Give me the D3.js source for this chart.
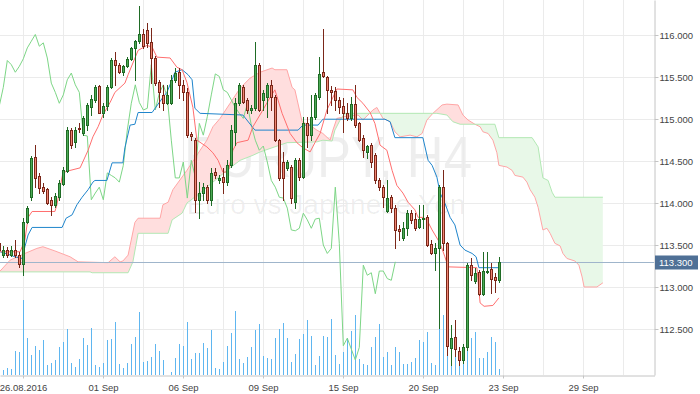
<!DOCTYPE html>
<html>
<head>
<meta charset="utf-8">
<script src="https://cdn.jsdelivr.net/npm/d3@7"></script>
<style>
html, body { margin:0; padding:0; background:#fff; }
svg { display:block; font-family:"Liberation Sans", Arial, sans-serif; }
</style>
</head>
<body>
<svg id="chart" width="700" height="394"></svg>
<script>
// 4h bars, index 0 = partly hidden bar at the left edge
var barOpen = [113.52,113.38,113.44,113.38,113.44,113.38,113.27,113.77,114.07,114.55,
  114.32,114.19,114.17,114.04,113.98,114.07,114.23,114.38,114.87,114.73,
  114.89,114.83,114.93,115.14,115.23,115.39,115.08,115.16,115.38,115.70,
  115.65,115.56,115.63,115.72,115.85,115.93,116.01,116.06,115.92,115.73,
  115.44,115.29,115.19,115.19,115.47,115.56,115.41,115.32,114.82,114.75,
  114.04,114.12,114.19,114.04,114.37,114.27,114.31,114.25,114.45,114.85,
  115.19,115.38,115.23,115.11,115.13,115.65,115.23,115.26,115.41,115.26,
  114.75,114.49,114.42,114.43,114.01,114.51,114.31,114.95,114.81,115.03,
  115.26,115.56,115.50,115.35,115.34,115.23,115.16,115.07,115.01,115.18,
  114.95,114.78,114.61,114.69,114.57,114.27,114.19,113.90,114.07,113.94,
  113.69,113.58,113.70,113.88,113.81,113.71,113.81,113.83,113.51,113.40,
  113.46,114.19,113.52,112.27,112.40,112.24,112.13,112.28,113.26,113.07,
  113.18,112.92,113.18,113.21,113.12,113.08];
var barHigh = [113.56,113.49,113.48,113.49,113.56,113.42,113.82,113.96,114.56,114.69,
  114.36,114.24,114.18,114.07,114.12,114.27,114.43,114.91,114.89,114.91,
  114.95,115.04,115.19,115.29,115.41,115.41,115.19,115.41,115.73,115.80,
  115.67,115.65,115.74,115.86,115.94,116.35,116.07,116.15,116.09,115.75,
  115.47,115.41,115.41,115.53,115.61,115.61,115.47,115.37,114.85,114.78,
  114.25,114.24,114.21,114.42,114.42,114.33,114.42,114.51,114.93,115.25,
  115.43,115.41,115.25,115.17,115.92,115.67,115.35,115.43,115.47,115.29,
  114.76,114.61,114.51,114.45,114.54,114.54,115.03,115.03,115.29,115.31,
  115.74,116.07,115.51,115.39,115.38,115.26,115.25,115.19,115.26,115.41,
  114.97,114.81,114.69,114.72,114.60,114.30,114.21,114.27,114.10,113.98,
  113.74,113.77,113.92,113.92,113.88,113.98,113.98,113.86,113.56,113.52,
  114.21,114.39,113.54,112.55,112.61,112.28,112.32,113.29,113.34,113.23,
  113.20,113.42,113.42,113.29,113.17,113.36];
var barLow = [113.36,113.36,113.36,113.37,113.36,113.24,113.14,113.76,114.04,114.19,
  114.12,114.12,113.99,113.86,113.95,114.04,114.21,114.37,114.66,114.67,
  114.85,114.81,114.87,115.05,115.20,115.07,115.03,115.11,115.37,115.41,
  115.55,115.53,115.62,115.70,115.47,115.91,115.85,115.86,115.43,115.41,
  115.14,115.11,115.18,115.18,115.44,115.25,115.23,114.79,114.75,113.89,
  113.82,114.04,114.00,113.98,114.30,114.24,114.12,114.21,114.43,114.69,
  115.17,115.19,115.08,115.08,115.11,115.10,115.11,115.03,115.11,114.74,
  114.27,114.04,114.39,114.00,113.94,114.27,114.30,114.67,114.75,115.00,
  115.24,115.50,115.07,115.17,115.11,115.07,114.85,114.99,114.99,114.91,
  114.74,114.55,114.54,114.43,114.24,114.16,113.95,113.89,113.89,113.46,
  113.56,113.56,113.62,113.76,113.68,113.70,113.70,113.49,113.39,113.20,
  112.51,113.44,112.19,112.07,112.18,112.07,112.09,112.25,113.08,113.05,
  112.90,112.90,113.17,112.93,112.94,113.06];
var barClose = [113.44,113.44,113.38,113.44,113.38,113.27,113.77,113.94,114.54,114.30,
  114.18,114.14,114.00,113.98,114.08,114.24,114.39,114.87,114.69,114.87,
  114.88,115.01,115.17,115.24,115.38,115.08,115.16,115.38,115.70,115.65,
  115.56,115.63,115.72,115.85,115.93,116.01,115.87,115.91,115.73,115.43,
  115.32,115.19,115.29,115.47,115.55,115.41,115.32,114.81,114.80,114.04,
  114.12,114.19,114.04,114.36,114.33,114.30,114.25,114.45,114.87,115.19,
  115.41,115.20,115.11,115.13,115.65,115.11,115.31,115.41,115.26,114.75,
  114.30,114.30,114.49,114.06,114.51,114.31,114.95,114.81,115.03,115.29,
  115.54,115.51,115.35,115.32,115.23,115.14,115.07,115.01,115.18,114.93,
  114.75,114.63,114.68,114.49,114.27,114.19,114.07,114.06,113.94,113.68,
  113.67,113.70,113.88,113.80,113.70,113.81,113.82,113.50,113.40,113.46,
  114.19,113.52,112.30,112.39,112.26,112.13,112.28,113.26,113.14,113.17,
  112.92,113.19,113.19,113.10,113.08,113.30];
var tickVolume = [4,5,7,6,24,23,75,37,20,29,
  25,35,10,12,15,28,33,46,12,8,
  16,37,30,47,10,8,12,35,36,53,
  11,7,12,31,38,63,13,14,18,31,
  24,15,0,3,17,31,29,53,16,22,
  22,32,27,45,7,6,13,29,42,64,
  16,12,18,28,45,51,19,17,16,37,
  46,52,37,13,21,36,41,55,39,10,
  19,39,38,56,20,11,23,37,44,60,
  16,11,10,28,38,51,18,23,10,28,
  23,11,11,13,17,35,33,43,12,10,
  46,60,55,37,55,10,28,30,37,43,
  17,17,23,38,33,6];

// ichimoku lines, read as vertices (bar position, price)
var tenkanPos = [0.2,5.2,6.4,7.2,8.2,13.9,14.4,15.9,16.9,20.2,22.2,23.4,24.7,25.9,27.7,28.9,31.4,32.2,33.4,34.7,36.9,38.2,39.4,42.7,44.4,45.7,46.9,48.4,49.4,51.9,53.4,54.7,55.9,57.2,58.4,59.4,62.2,63.4,65.9,67.7,68.9,70.7,72.7,74.4,75.9,77.7,78.9,80.2,81.9,84.4,88.4,89.4,90.9,92.7,93.9,95.2,96.9,98.2,99.4,100.9,102.2,103.9,104.7,105.9,106.9,108.2,110.2,111.4,112.2,119.4,120.2,121.2,123.4,124.9];
var tenkanVal = [113.42,113.42,113.56,113.83,113.90,113.90,113.98,114.36,114.38,114.42,114.63,114.79,114.91,115.05,115.20,115.32,115.43,115.53,115.67,115.82,115.88,115.86,115.74,115.73,115.62,115.59,115.44,115.14,114.75,114.67,114.60,114.51,114.37,114.37,114.63,114.72,114.75,114.91,115.11,115.26,115.35,115.07,114.83,114.72,114.66,114.61,114.72,114.83,115.11,115.36,115.35,115.26,115.19,115.08,114.95,114.69,114.63,114.39,114.21,114.12,114.01,113.92,113.83,113.83,113.80,113.68,113.52,113.36,113.24,113.23,112.81,112.77,112.78,112.87];
var kijunPos = [0.2,2.2,3.9,5.7,6.4,7.2,8.2,15.7,16.7,18.2,19.4,20.7,22.2,23.4,23.9,26.9,28.2,30.9,31.4,32.7,33.9,34.7,38.2,40.9,41.9,43.2,43.9,45.7,47.2,48.2,48.9,50.2,60.9,63.9,74.7,75.9,79.7,80.9,96.4,97.7,98.9,105.9,107.2,108.2,109.4,110.2,111.4,112.7,113.9,115.2,116.4,118.2,119.2,119.9,124.9];
var kijunVal = [113.42,113.39,113.36,113.34,113.48,113.62,113.71,113.71,113.82,113.86,113.98,114.07,114.16,114.25,114.27,114.27,114.48,114.48,114.66,114.93,114.94,115.08,115.08,115.26,115.32,115.47,115.56,115.59,115.53,115.47,115.13,115.07,115.05,114.87,114.87,114.93,114.93,115.00,115.00,114.97,114.78,114.78,114.51,114.45,114.31,114.12,114.00,113.83,113.74,113.50,113.44,113.40,113.36,113.23,113.23];
var spanAPos = [0.2,2.7,6.4,9.4,10.9,13.9,17.7,19.7,27.2,28.9,30.2,30.9,32.2,33.9,34.7,40.2,40.9,42.2,43.4,46.9,50.2,51.9,53.4,55.2,57.7,60.2,62.7,65.2,68.2,68.9,71.9,73.2,73.9,75.7,78.2,79.4,80.9,82.7,83.4,84.4,86.4,89.7,90.9,93.4,94.4,95.2,95.9,97.7,98.9,100.2,102.7,104.4,105.7,106.9,108.4,110.7,111.9,114.7,115.9,117.2,118.9,120.2,120.9,122.2,123.4,124.4,124.9,126.9,128.2,128.9,130.9,131.9,132.7,133.9,134.7,135.9,136.9,137.7,138.9,140.2,140.9,141.9,143.9,144.9,145.7,146.2,149.4,150.9];
var spanAVal = [113.19,113.32,113.40,113.46,113.48,113.43,113.36,113.30,113.29,113.36,113.30,113.31,113.38,113.77,113.82,113.82,113.98,114.01,114.16,114.39,114.63,114.75,114.91,115.01,115.19,115.37,115.49,115.56,115.61,115.59,115.59,115.38,115.35,114.97,114.91,114.87,114.83,114.75,114.87,115.01,115.03,115.05,114.99,115.11,115.14,115.07,115.01,114.97,114.85,114.79,114.81,114.79,114.83,114.99,115.07,115.17,115.18,115.17,115.05,114.99,114.94,114.91,114.85,114.83,114.75,114.60,114.45,114.43,114.39,114.33,114.31,114.25,114.16,114.07,113.95,113.68,113.70,113.64,113.52,113.49,113.40,113.34,113.31,113.26,113.12,113.00,113.00,113.05];
var spanBPos = [0.2,22.7,23.2,32.2,33.4,34.7,42.2,43.2,45.7,46.9,50.2,53.9,57.7,60.2,63.4,65.2,71.9,79.4,80.9,83.2,83.9,85.2,86.4,109.4,111.9,113.4,115.2,123.9,124.9,133.2,134.7,135.9,137.2,138.2,138.9,150.9];
var spanBVal = [113.18,113.18,113.17,113.17,113.30,113.64,113.64,113.80,113.88,114.00,114.12,114.27,114.42,114.51,114.57,114.61,114.72,114.73,114.75,114.74,114.87,114.99,115.07,115.07,115.05,114.97,114.94,114.94,114.78,114.78,114.67,114.30,114.27,114.13,114.07,114.07];
var chikouShift = 26;

var priceTicks = [112.5,113.0,113.5,114.0,114.5,115.0,115.5,116.0];
var dateTickPos = [6,26,46,66,86,106,126,146];
var dateTickLabels = ["26.08.2016","01 Sep","06 Sep","09 Sep","15 Sep","20 Sep","23 Sep","29 Sep"];
var lastPrice = 113.300;

var plotW = 654.5, plotH = 375;
var x = d3.scaleLinear().domain([0.175, 163.8]).range([0, plotW]);
var y = d3.scaleLinear().domain([111.951, 116.421]).range([plotH, 0]);
var vol = d3.scaleLinear().domain([0, 100]).range([plotH, plotH - 100]);

var svg = d3.select("#chart");
var defs = svg.append("defs");
defs.append("clipPath").attr("id", "plot")
  .append("rect").attr("width", plotW).attr("height", plotH);

function px(k){ return Math.floor(x(k)) + 0.5; }
function py(v){ return Math.round(y(v)) + 0.5; }
function pts(pos, val){ return pos.map(function(p, i){ return [p, val[i]]; }); }

// watermark
svg.append("text")
  .attr("x", 328).attr("y", 177)
  .attr("text-anchor", "middle")
  .attr("textLength", 288).attr("lengthAdjust", "spacingAndGlyphs")
  .style("font-size", "57px")
  .attr("fill", "#000").attr("fill-opacity", 0.065)
  .text("EURJPY, H4");
svg.append("text")
  .attr("x", 326).attr("y", 214)
  .attr("text-anchor", "middle")
  .style("font-size", "28px")
  .attr("fill", "#000").attr("fill-opacity", 0.065)
  .text("Euro vs Japanese Yen");

var g = svg.append("g").attr("clip-path", "url(#plot)");

// grid
g.selectAll(".hgrid").data(priceTicks).enter().append("line")
  .attr("x1", 0).attr("x2", plotW)
  .attr("y1", function(d){ return py(d); }).attr("y2", function(d){ return py(d); })
  .attr("stroke", "#ebebeb");
g.selectAll(".vgrid").data(d3.range(6, 170, 10)).enter().append("line")
  .attr("x1", function(d){ return px(d); }).attr("x2", function(d){ return px(d); })
  .attr("y1", 0).attr("y2", plotH)
  .attr("stroke", "#ebebeb");

// cloud
var spanA = pts(spanAPos, spanAVal), spanB = pts(spanBPos, spanBVal);
defs.append("clipPath").attr("id", "belowA").append("path")
  .attr("d", d3.area().x(function(d){ return x(d[0]); }).y0(plotH).y1(function(d){ return y(d[1]); })(spanA));
defs.append("clipPath").attr("id", "aboveA").append("path")
  .attr("d", d3.area().x(function(d){ return x(d[0]); }).y0(0).y1(function(d){ return y(d[1]); })(spanA));
g.append("path")
  .attr("clip-path", "url(#belowA)")
  .attr("d", d3.area().x(function(d){ return x(d[0]); }).y0(function(d){ return y(d[1]); }).y1(0)(spanB))
  .attr("fill", "#ffdede");
g.append("path")
  .attr("clip-path", "url(#aboveA)")
  .attr("d", d3.area().x(function(d){ return x(d[0]); }).y0(function(d){ return y(d[1]); }).y1(plotH)(spanB))
  .attr("fill", "#e8f8e8");

var line = d3.line().x(function(d){ return x(d[0]); }).y(function(d){ return y(d[1]); });
g.append("path").attr("d", line(spanA)).attr("fill", "none").attr("stroke", "#ffa6a6");
g.append("path").attr("d", line(spanB)).attr("fill", "none").attr("stroke", "#b2e8b4");

// volume
g.selectAll(".vol").data(tickVolume).enter().append("rect")
  .attr("x", function(d, i){ return Math.floor(x(i)); })
  .attr("width", 1)
  .attr("y", function(d){ return Math.round(vol(d)); })
  .attr("height", function(d){ return plotH - Math.round(vol(d)); })
  .attr("fill", "#5fb6f0");

// last price line
g.append("line")
  .attr("x1", 0).attr("x2", plotW)
  .attr("y1", py(lastPrice)).attr("y2", py(lastPrice))
  .attr("stroke", "#9fb5cb");

// chikou, kijun, tenkan
var chikou = [];
for (var j = chikouShift; j < barClose.length; j++) chikou.push([j - chikouShift, barClose[j]]);
g.append("path").attr("d", line(chikou)).attr("fill", "none").attr("stroke", "#7dd686");
g.append("path").attr("d", line(pts(kijunPos, kijunVal))).attr("fill", "none").attr("stroke", "#1f85cc");
g.append("path").attr("d", line(pts(tenkanPos, tenkanVal))).attr("fill", "none").attr("stroke", "#ff6f6f");

// candles
var bars = g.selectAll(".bar").data(barClose).enter().append("g");
bars.append("line")
  .attr("x1", function(d, i){ return px(i); }).attr("x2", function(d, i){ return px(i); })
  .attr("y1", function(d, i){ return Math.round(y(barHigh[i])); })
  .attr("y2", function(d, i){ return Math.round(y(barLow[i])) + 1; })
  .attr("stroke", function(d, i){ return d >= barOpen[i] ? "#1f6b25" : "#7a2719"; });
bars.append("rect")
  .attr("x", function(d, i){ return px(i) - 1; })
  .attr("y", function(d, i){ return py(Math.max(d, barOpen[i])); })
  .attr("width", 2)
  .attr("height", function(d, i){ return Math.max(1, Math.round(y(Math.min(d, barOpen[i]))) - Math.round(y(Math.max(d, barOpen[i])))); })
  .attr("fill", function(d, i){ return d >= barOpen[i] ? "#4caa55" : "#ef8472"; })
  .attr("stroke", function(d, i){ return d >= barOpen[i] ? "#1f6b25" : "#7a2719"; });

// axes
var xAxis = d3.axisBottom(x)
  .tickValues(dateTickPos)
  .tickFormat(function(d, i){ return dateTickLabels[i]; })
  .tickSizeInner(3).tickSizeOuter(0).tickPadding(6);
var xa = svg.append("g").attr("transform", "translate(0," + (plotH + 0.5) + ")").call(xAxis);
xa.selectAll(".tick").attr("transform", function(d){ return "translate(" + px(d) + ",0)"; });

var yAxis = d3.axisRight(y)
  .tickValues(priceTicks)
  .tickFormat(d3.format(".3f"))
  .tickSizeInner(4).tickSizeOuter(0).tickPadding(1);
var ya = svg.append("g").attr("transform", "translate(" + plotW + ",0)").call(yAxis);
ya.selectAll(".tick").attr("transform", function(d){ return "translate(0," + py(d) + ")"; });

svg.selectAll(".domain, .tick line").attr("stroke", "#c4c4c4");
svg.selectAll(".tick text").attr("fill", "#444").style("font-size", "9.5px")
  .style("font-family", "'Liberation Sans', Arial, sans-serif");

// last price box
var lp = svg.append("g").attr("transform", "translate(655," + py(lastPrice) + ")");
lp.append("rect").attr("x", 0).attr("y", -7).attr("width", 43).attr("height", 14).attr("fill", "#4f7096");
lp.append("text").attr("x", 4).attr("y", 0).attr("dy", "0.34em")
  .attr("fill", "#fff").style("font-size", "9.5px")
  .text(d3.format(".3f")(lastPrice));
</script>
</body>
</html>
